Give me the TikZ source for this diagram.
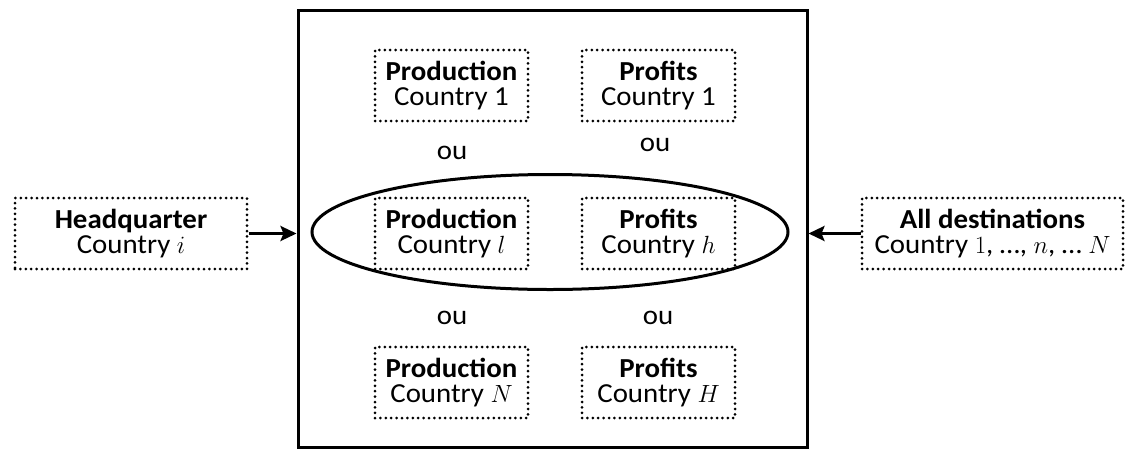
\documentclass[tikz,border=0pt]{standalone}
\usepackage{fontspec}
\setmainfont{Carlito}[FakeStretch=1.05]
\usetikzlibrary{shapes.geometric,arrows.meta}
\begin{document}
\begin{tikzpicture}[x=1pt,y=-1pt,
  dotbox/.style={draw,line width=3pt,dash pattern=on 0pt off 5.4pt,line cap=round,
    rectangle,minimum height=71pt,inner sep=0pt,align=center,
    font=\fontsize{27.5}{25}\selectfont},
  prodbox/.style={dotbox,minimum width=153pt},
  oulabel/.style={font=\fontsize{27.5}{25}\selectfont,inner sep=0pt},
  frame/.style={draw,line width=3pt,rectangle,inner sep=0pt},
  arr/.style={line width=3pt,-{Stealth[length=16pt,width=15pt,inset=3pt]}}]
\useasboundingbox (0,0) rectangle (1126,450);
\node[frame,minimum width=509pt,minimum height=437pt] (fr) at (552.5,228.5) {};
\node[draw,line width=3pt,ellipse,minimum width=476pt,minimum height=115pt,inner sep=0pt] (ell) at (550,232) {};
% top row
\node[prodbox] (p1) at (451.5,85.5) {\textbf{Production}\\Country 1};
\node[prodbox] (f1) at (658.5,85.5) {\textbf{Profits}\\Country 1};
% middle row
\node[prodbox] (pl) at (451.5,233.5) {\textbf{Production}\\Country $l$};
\node[prodbox] (fh) at (658.5,233.5) {\textbf{Profits}\\Country $h$};
% bottom row
\node[prodbox] (pN) at (451.5,382.5) {\textbf{Production}\\Country $N$};
\node[prodbox] (fH) at (658.5,382.5) {\textbf{Profits}\\Country $H$};
% ou labels
\node[oulabel] (ou1) at (452,153) {ou};
\node[oulabel] (ou2) at (655,145) {ou};
\node[oulabel] (ou3) at (452,318) {ou};
\node[oulabel] (ou4) at (658,318) {ou};
% side boxes
\node[dotbox,minimum width=232pt] (hq) at (131,233.5) {\textbf{Headquarter}\\Country $i$};
\node[dotbox,minimum width=261pt] (ad) at (992.5,233.5) {\textbf{All destinations}\\Country $1$, …, $n$, … $N$};
\draw[arr] (hq.east) -- (hq.east -| fr.west);
\draw[arr] (ad.west) -- (ad.west -| fr.east);
\end{tikzpicture}
\end{document}
